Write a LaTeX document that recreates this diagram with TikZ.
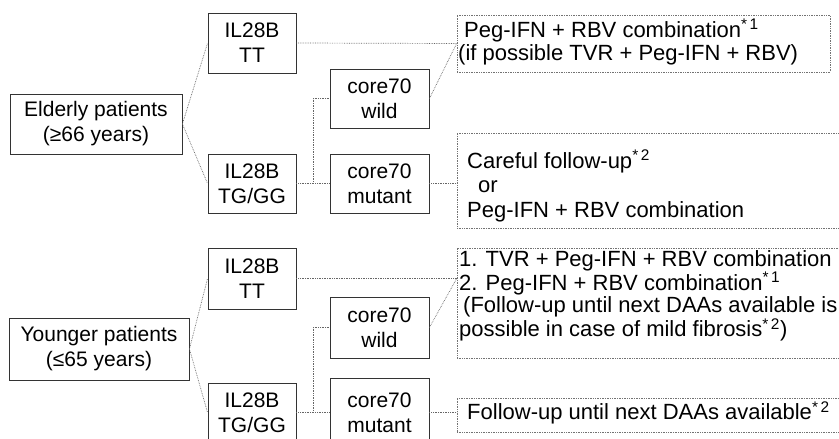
\documentclass[tikz,border=0pt]{standalone}
\usepackage{fontspec}
\setmainfont{Liberation Sans}
\begin{document}
\begin{tikzpicture}[x=1pt,y=-1pt,
  nbox/.style={draw=black!80, line width=0.9pt, inner sep=0pt, align=center,
    font=\fontsize{21}{25}\selectfont},
  res/.style={draw=black!55, densely dotted, line width=0.7pt, inner sep=0pt},
  restext/.style={inner sep=0pt, align=left, anchor=west,
    font=\fontsize{22}{23.5}\selectfont},
  link/.style={draw=black!60, densely dotted, line width=0.7pt}]
\useasboundingbox (0,0) rectangle (839,439);

% upper tree
\node[nbox, minimum width=172pt, minimum height=60pt] (eld) at (96,124) {Elderly patients\\(≥66 years)};
\node[nbox, minimum width=88pt, minimum height=60pt] (tt1) at (252,43) {IL28B\\TT};
\node[nbox, minimum width=88pt, minimum height=59pt] (tg1) at (252,183.5) {IL28B\\TG/GG};
\node[nbox, minimum width=99pt, minimum height=59pt] (w1) at (379.5,98.5) {core70\\wild};
\node[nbox, minimum width=99pt, minimum height=59pt] (m1) at (379.5,183.5) {core70\\mutant};
\node[res, minimum width=373pt, minimum height=57pt] (r1) at (643.5,43.5) {};
\node[res, minimum width=388pt, minimum height=95pt] (r2) at (651,180.5) {};
\node[restext] (t1) at (458,42) {\hspace*{6pt}Peg-IFN + RBV combination\textsuperscript{*\,1}\\(if possible TVR + Peg-IFN + RBV)};
\node[restext, font=\fontsize{22}{24.5}\selectfont] (t2) at (467,186) {Careful follow-up\textsuperscript{*\,2}\\\hspace*{11pt}or\\Peg-IFN + RBV combination};

% lower tree
\node[nbox, minimum width=180pt, minimum height=62pt] (yng) at (99,349) {Younger patients\\(≤65 years)};
\node[nbox, minimum width=88pt, minimum height=61pt] (tt2) at (252,278.5) {IL28B\\TT};
\node[nbox, minimum width=88pt, minimum height=59pt] (tg2) at (252,412.5) {IL28B\\TG/GG};
\node[nbox, minimum width=99pt, minimum height=61pt] (w2) at (379.5,327.5) {core70\\wild};
\node[nbox, minimum width=99pt, minimum height=69pt] (m2) at (379.5,412.5) {core70\\mutant};
\node[res, minimum width=388pt, minimum height=110pt] (r3) at (651,303) {};
\node[res, minimum width=388pt, minimum height=34pt] (r4) at (651,415) {};
\node[restext, font=\fontsize{22}{22.5}\selectfont] (t3) at (459,296) {1. TVR + Peg-IFN + RBV combination\\2. Peg-IFN + RBV combination\textsuperscript{*\,1}\\\hspace*{4pt}(Follow-up until next DAAs available is\\possible in case of mild fibrosis\textsuperscript{*\,2})};
\node[restext] (t4) at (467,413) {Follow-up until next DAAs available\textsuperscript{*\,2}};

% junctions
\coordinate (j1) at (313,183.5);
\coordinate (j2) at (313,412.5);
\coordinate (p1) at (r1.west);
\coordinate (p3) at (r3.west |- tt2.east);

% connectors
\path[link] (eld.east) -- (tt1.west);
\path[link] (eld.east) -- (tg1.west);
\path[link] (tg1.east) -- (j1) -- (m1.west);
\path[link] (j1) |- (w1.west);
\path[link] (tt1.east) -- (p1);
\path[link] (w1.east) -- (p1);
\path[link] (m1.east) -- (r2.west |- m1.east);

\path[link] (yng.east) -- (tt2.west);
\path[link] (yng.east) -- (tg2.west);
\path[link] (tg2.east) -- (j2) -- (m2.west);
\path[link] (j2) |- (w2.west);
\path[link] (tt2.east) -- (p3);
\path[link] (w2.east) -- (p3);
\path[link] (m2.east) -- (r4.west |- m2.east);
\end{tikzpicture}
\end{document}
